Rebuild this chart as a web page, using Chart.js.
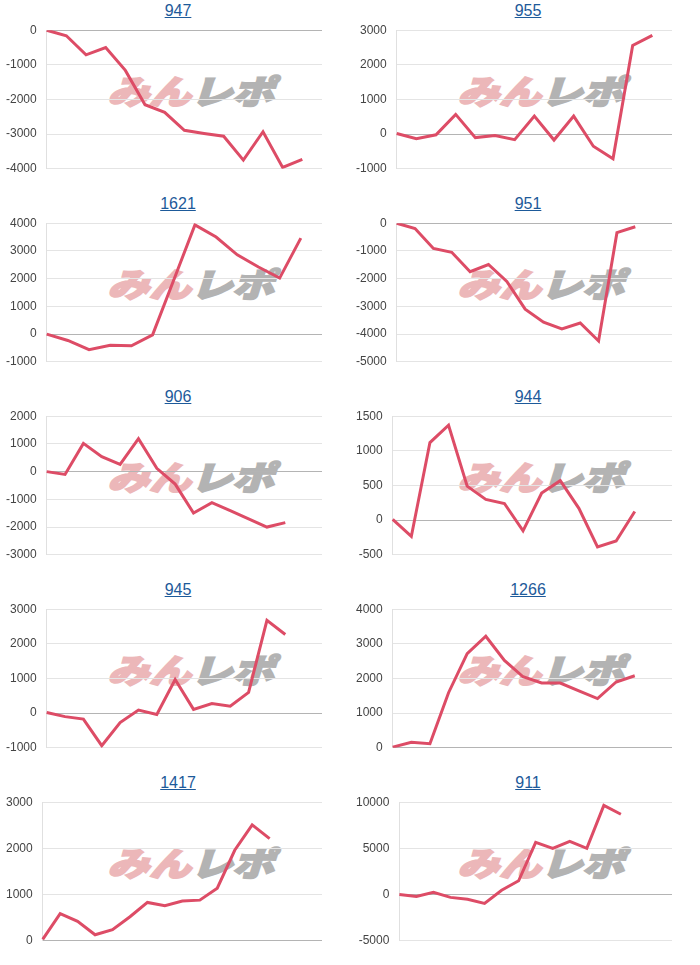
<!DOCTYPE html>
<html>
<head>
<meta charset="utf-8">
<script src="https://cdn.jsdelivr.net/npm/chart.js@4.4.0/dist/chart.umd.min.js"></script>
<style>
  body { margin:0; background:#fff; }
  #grid { width:700px; display:grid; grid-template-columns:350px 350px; grid-auto-rows:193px; }
  .cell { position:relative; }
  .title { position:absolute; top:2px; left:0; width:356px; text-align:center;
           font:16px "Liberation Sans", Arial, sans-serif; line-height:18px; }
  .title a { color:#1d5a9a; text-decoration:underline; }
  .wm { position:absolute; left:112px; top:73px; height:34px; white-space:nowrap;
        font:900 33px "Noto Sans CJK JP", sans-serif; line-height:34px;
        transform-origin:left center; transform:scaleX(1.26) skewX(-14deg); }
  .wm .a { color:#ecb7b9; -webkit-text-stroke:2px #ecb7b9; }
  .wm .b { color:#b3b3b3; -webkit-text-stroke:2px #b3b3b3; }
  .cell canvas { position:absolute; top:13px; left:0; }
</style>
</head>
<body>
<div id="grid"></div>
<script>
// ── series ────────────────────────────────────────────────────
const s947  = [0, -160, -710, -500, -1160, -2150, -2370, -2890, -2980, -3060, -3750, -2930, -3960, -3730];
const s955  = [20, -130, -20, 570, -100, -40, -160, 520, -170, 520, -350, -710, 2560, 2850];
const s1621 = [0, -230, -560, -400, -420, -30, 1950, 3940, 3500, 2860, 2420, 2020, 3460];
const s951  = [0, -190, -910, -1050, -1750, -1490, -2100, -3100, -3570, -3810, -3600, -4250, -340, -130];
const s906  = [0, -100, 1020, 540, 260, 1190, 120, -450, -1490, -1120, -1410, -1700, -2000, -1840];
const s944  = [10, -235, 1120, 1370, 490, 300, 240, -155, 390, 570, 170, -385, -300, 125];
const s945  = [20, -100, -170, -940, -270, 90, -40, 970, 110, 280, 200, 600, 2680, 2270];
const s1266 = [20, 160, 120, 1590, 2720, 3220, 2520, 2050, 1870, 1870, 1640, 1420, 1900, 2080];
const s1417 = [30, 590, 420, 130, 240, 520, 830, 760, 860, 880, 1140, 1960, 2510, 2210];
const s911  = [0, -200, 250, -300, -500, -950, 470, 1500, 5650, 5000, 5750, 5000, 9650, 8700];

// chart titles and number of x slots (labels are blank in the picture)
const titles = ['947', '955', '1621', '951', '906', '944', '945', '1266', '1417', '911'];
const slots  = [15, 15, 14, 16, 16, 16, 16, 16, 17, 17];
// y axis ranges: [min, max, step]
const yRanges = [
  [-4000, 0, 1000], [-1000, 3000, 1000],
  [-1000, 4000, 1000], [-5000, 0, 1000],
  [-3000, 2000, 1000], [-500, 1500, 500],
  [-1000, 3000, 1000], [0, 4000, 1000],
  [0, 3000, 1000], [-5000, 10000, 5000],
];
const series = [s947, s955, s1621, s951, s906, s944, s945, s1266, s1417, s911];

Chart.defaults.font.family = '"Liberation Sans", Arial, sans-serif';
Chart.defaults.font.size = 12;
Chart.defaults.color = '#444';

const grid = document.getElementById('grid');

titles.forEach((t, i) => {
  const cell = document.createElement('div');
  cell.className = 'cell';
  cell.innerHTML =
    `<div class="title"><a href="#">${t}</a></div>` +
    `<div class="wm"><span class="a">みん</span><span class="b">レポ</span></div>` +
    `<canvas width="350" height="173"></canvas>`;
  grid.appendChild(cell);

  const labels = Array.from({ length: slots[i] }, () => '');
  const [min, max, step] = yRanges[i];

  new Chart(cell.querySelector('canvas'), {
    type: 'line',
    data: {
      labels,
      datasets: [{ data: series[i], borderColor:'#dd4c66', borderWidth:3,
                   pointRadius:0, tension:0, fill:false }]
    },
    options: {
      responsive:false, animation:false,
      layout: { padding: { left:-4, right:28, top:0, bottom:0 } },
      plugins: { legend:{ display:false }, tooltip:{ enabled:false } },
      scales: {
        x: { display:false, offset:false },
        y: {
          min, max,
          ticks: { stepSize:step, padding:10, callback: v => String(v) },
          grid: { drawTicks:false, color: c => c.tick && c.tick.value === 0 ? '#b4b4b4' : '#e4e4e4' },
          border: { display:true, color:'#e0e0e0' }
        }
      }
    }
  });
});
</script>
</body>
</html>
